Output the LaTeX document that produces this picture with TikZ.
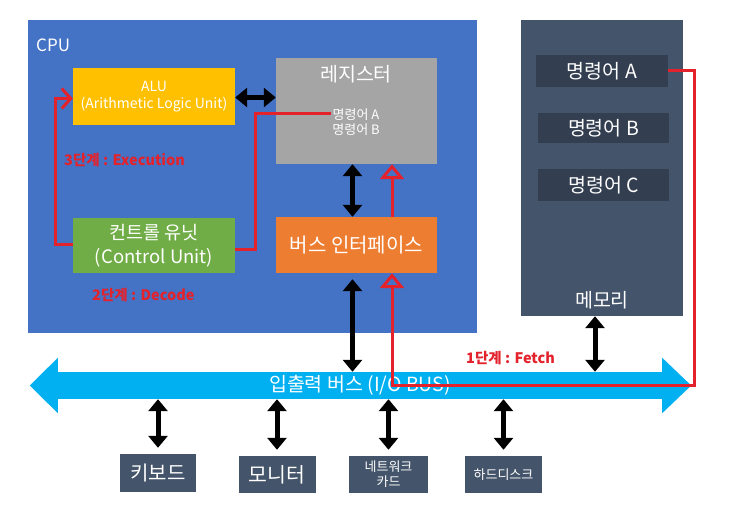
\documentclass[tikz,border=0pt]{standalone}
\usepackage{fontspec}
\setmainfont{Noto Sans CJK KR}
\usetikzlibrary{calc,arrows.meta}

\definecolor{cpublue}{HTML}{4472C4}
\definecolor{alugold}{HTML}{FFC000}
\definecolor{reggray}{HTML}{A5A5A5}
\definecolor{cugreen}{HTML}{70AD47}
\definecolor{biforange}{HTML}{ED7D31}
\definecolor{memslate}{HTML}{44546A}
\definecolor{cellslate}{HTML}{333F50}
\definecolor{busblue}{HTML}{00B0F0}
\definecolor{stepred}{HTML}{E3222C}

\begin{document}
\begin{tikzpicture}[x=1pt,y=-1pt,
    unitbox/.style={fill=#1, text=white, inner sep=0pt, align=center},
    dataarrow/.style={line width=5pt, {Triangle[length=12pt,width=19pt]}-{Triangle[length=12pt,width=19pt]}},
    stepline/.style={draw=stepred, line width=3pt},
    steptip/.style={-{Triangle[open,length=15pt,width=24pt]}},
    steplabel/.style={text=stepred, anchor=west, inner sep=0pt, font=\bfseries\fontsize{14.5}{16}\selectfont}]

    % Page frame, white background
    \useasboundingbox (0,0) rectangle (750,511);
    \fill[white] (0,0) rectangle (750,511);

    % CPU and memory blocks
    \node[unitbox=cpublue, minimum width=449pt, minimum height=313pt] (cpu) at (252.5,176.5) {};
    \node[anchor=west, text=white, inner sep=0pt, font=\fontsize{17}{19}\selectfont] (cpulabel) at (36,45) {CPU};
    \node[unitbox=memslate, minimum width=162pt, minimum height=296pt] (mem) at (602,168) {};

    % Units inside the CPU
    \node[unitbox=alugold, minimum width=162pt, minimum height=57pt, font=\fontsize{14}{17}\selectfont] (alu) at (154,96.5)
        {ALU\\(Arithmetic Logic Unit)};
    \node[unitbox=reggray, minimum width=161pt, minimum height=106pt] (reg) at (356.5,111) {};
    \node[text=white, inner sep=0pt, font=\fontsize{19.5}{21}\selectfont] (regtitle) at (356,74) {레지스터};
    \node[text=white, inner sep=0pt, font=\fontsize{13}{14}\selectfont] (rega) at (356,115) {명령어 A};
    \node[text=white, inner sep=0pt, font=\fontsize{13}{14}\selectfont] (regb) at (356,130) {명령어 B};
    \node[unitbox=cugreen, minimum width=162pt, minimum height=55pt, font=\fontsize{18.5}{24}\selectfont] (cu) at (154,245.5)
        {컨트롤 유닛\\(Control Unit)};
    \node[unitbox=biforange, minimum width=161pt, minimum height=56pt, font=\fontsize{20}{22}\selectfont] (bif) at (356.5,245) {버스 인터페이스};

    % Instruction cells in memory
    \node[unitbox=cellslate, minimum width=132pt, minimum height=32pt, font=\fontsize{19.5}{21}\selectfont] (cella) at (602,71) {명령어 A};
    \node[unitbox=cellslate, minimum width=131pt, minimum height=30pt, font=\fontsize{19.5}{21}\selectfont] (cellb) at (603.5,128) {명령어 B};
    \node[unitbox=cellslate, minimum width=131pt, minimum height=32pt, font=\fontsize{19.5}{21}\selectfont] (cellc) at (603.5,185) {명령어 C};
    \node[text=white, inner sep=0pt, font=\fontsize{19.5}{21}\selectfont] (memlabel) at (602,300) {메모리};

    % I/O bus: shaft node plus two heads
    \node[unitbox=busblue, minimum width=604pt, minimum height=27pt, font=\fontsize{19.5}{21}\selectfont] (bus) at (360,385.5)
        {입출력 버스 (I/O BUS)};
    \fill[busblue] ([yshift=14pt]bus.north west) -- ([xshift=-28pt]bus.west) -- ([yshift=-14pt]bus.south west) -- cycle;
    \fill[busblue] ([yshift=14pt]bus.north east) -- ([xshift=29pt]bus.east) -- ([yshift=-14pt]bus.south east) -- cycle;

    % Devices on the bus
    \node[unitbox=memslate, minimum width=76pt, minimum height=38pt, font=\fontsize{20}{22}\selectfont] (kbd) at (158,473) {키보드};
    \node[unitbox=memslate, minimum width=77pt, minimum height=37pt, font=\fontsize{20.5}{22}\selectfont] (mon) at (277,474.5) {모니터};
    \node[unitbox=memslate, minimum width=79pt, minimum height=37pt, font=\fontsize{13}{15}\selectfont] (nic) at (388.5,474.5) {네트워크\\카드};
    \node[unitbox=memslate, minimum width=77pt, minimum height=37pt, font=\fontsize{13}{15}\selectfont] (hdd) at (503.5,474.5) {하드디스크};

    % Data paths (black)
    \coordinate (memport) at ($(mem.south)+(-7,0)$);
    \coordinate (bifport) at ($(bif.south)+(-4,0)$);
    \draw[dataarrow] ([yshift=-1pt]alu.east) -- ([yshift=-1pt]alu.east -| reg.west);
    \draw[dataarrow] (bifport |- reg.south) -- (bifport |- bif.north);
    \draw[dataarrow, shorten <=6pt] (bifport) -- (bifport |- bus.north);
    \draw[dataarrow] (memport) -- (memport |- bus.north);
    \draw[dataarrow, shorten >=6pt] (kbd.north |- bus.south) -- (kbd.north);
    \draw[dataarrow, shorten >=6pt] (mon.north |- bus.south) -- (mon.north);
    \draw[dataarrow, shorten >=6pt] (nic.north |- bus.south) -- (nic.north);
    \draw[dataarrow, shorten >=6pt] (hdd.north |- bus.south) -- (hdd.north);

    % Step 1: fetch from memory into the register
    \coordinate (fetchx) at (392,0);
    \draw[stepline, steptip] (cella.east) -- ++(26,0) |- (bus.center -| fetchx) -- (fetchx |- bif.south);
    \draw[stepline, steptip] (fetchx |- bif.north) -- (fetchx |- reg.south);

    % Step 2: decode
    \draw[stepline] ([yshift=-4pt]cu.east) -- ++(20,0) |- ([xshift=-1pt,yshift=2pt]rega.west);

    % Step 3: execution
    \draw[stepline, -{Straight Barb[length=9pt,width=20pt]}] ([yshift=1pt]cu.west) -- ++(-17,0) |- ([yshift=-2pt]alu.west);

    % Step labels
    \node[steplabel] (exelabel) at (64,160) {3단계 : Execution};
    \node[steplabel] (declabel) at (92,295) {2단계 : Decode};
    \node[steplabel] (fetchlabel) at (466,358) {1단계 : Fetch};

\end{tikzpicture}
\end{document}
